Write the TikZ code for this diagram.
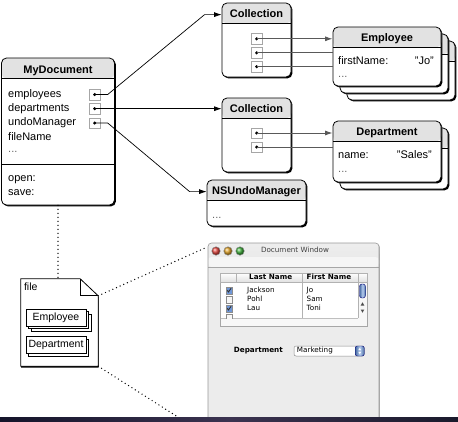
\documentclass[tikz,border=0pt]{standalone}
\usepackage{fontspec}
\setmainfont{Liberation Sans}
\newfontfamily\winfont{DejaVu Sans}
\usetikzlibrary{arrows.meta,shadows,positioning}
\definecolor{headGray}{HTML}{E2E2E2}
\definecolor{winGray}{HTML}{ECECEC}
\definecolor{checkBlue}{HTML}{6F97D8}
\definecolor{knobBlue}{HTML}{5E8FDA}
\definecolor{btnRed}{HTML}{E2463F}
\definecolor{btnYellow}{HTML}{E0A228}
\definecolor{btnGreen}{HTML}{3EAE3A}
\definecolor{bandLeft}{HTML}{14142A}
\definecolor{bandMid}{HTML}{3B3350}
\definecolor{bandRight}{HTML}{1A1A2C}
\newcommand{\boxfont}{\fontsize{11}{13}\selectfont}
\newcommand{\filefont}{\fontsize{10.5}{12}\selectfont}
\newcommand{\wfont}{\winfont\fontsize{7.2}{8}\selectfont}
\tikzset{
  classBox/.style={draw,line width=0.8pt,rounded corners=5pt,fill=white,inner sep=0pt,
    drop shadow={shadow xshift=1.4pt,shadow yshift=-1.4pt,opacity=1,fill=black},
    path picture={
      \fill[headGray] (path picture bounding box.north west) rectangle ([yshift=-20.5pt]path picture bounding box.north east);
      \draw[line width=0.8pt] ([yshift=-20.5pt]path picture bounding box.north west) -- ([yshift=-20.5pt]path picture bounding box.north east);}},
  boxTitle/.style={font=\boxfont\bfseries,inner sep=0pt,text height=8pt,text depth=2.5pt},
  fieldText/.style={anchor=west,font=\boxfont,inner sep=0pt,text height=8pt,text depth=2.5pt},
  valueText/.style={fieldText,anchor=east},
  moreText/.style={fieldText,text=black!60},
  slot/.style={draw=black!35,line width=0.5pt,minimum size=10.5pt,inner sep=0pt,
    path picture={\fill (path picture bounding box.center) circle (1.7pt);}},
  ptr/.style={-{Latex[length=7.5pt,width=5pt]},line width=0.7pt},
  link/.style={line width=1pt,black!65},
  dots/.style={line width=1.4pt,line cap=round,dash pattern=on 0pt off 4pt},
  recordBox/.style={draw,line width=0.5pt,fill=white,minimum width=60pt,minimum height=17pt,inner sep=0pt,font=\filefont},
  winFrame/.style={fill=winGray,draw=black!40,line width=0.6pt,rounded corners=3.5pt,inner sep=0pt,
    drop shadow={shadow xshift=0.9pt,shadow yshift=-0.9pt,opacity=0.35,fill=black},
    path picture={
      \shade[top color=black!7,bottom color=black!22] (path picture bounding box.north west) rectangle ([yshift=-14pt]path picture bounding box.north east);
      \fill[black!4] ([yshift=-14pt]path picture bounding box.north west) rectangle ([yshift=-24pt]path picture bounding box.north east);
      \draw[black!35,line width=0.5pt] ([yshift=-24pt]path picture bounding box.north west) -- ([yshift=-24pt]path picture bounding box.north east);}},
  trafficBtn/.style={circle,minimum size=8.5pt,inner sep=0pt,draw=black!45,line width=0.4pt,shading=ball},
  winText/.style={font=\wfont,inner sep=0pt,text height=5.2pt,text depth=1.6pt},
  winLabel/.style={winText,font=\wfont\bfseries},
  checkBox/.style={draw=black!45,line width=0.4pt,fill=black!3,minimum size=6.5pt,inner sep=0pt},
  checked/.style={checkBox,fill=checkBlue,
    path picture={\draw[black!80,line width=0.9pt] ([shift={(-1.9pt,0.3pt)}]path picture bounding box.center) -- ([shift={(-0.5pt,-1.5pt)}]path picture bounding box.center) -- ([shift={(2.1pt,2.3pt)}]path picture bounding box.center);}},
  blueKnob/.style={draw=blue!45!black,line width=0.4pt,inner sep=0pt,shading=axis,
    left color=knobBlue!75!black,right color=knobBlue!75!black,middle color=knobBlue!45!white}
}

\begin{document}
\begin{tikzpicture}[x=1pt,y=-1pt]
  \useasboundingbox (0,0) rectangle (458,421);

  % object graph
  \node[classBox,minimum width=113pt,minimum height=147pt] (myDoc) at (58,131.5) {};
  \node[boxTitle] (myDocTitle) at ([yshift=-13pt]myDoc.north) {MyDocument};
  \node[fieldText] (fEmployees) at (8,94.5) {employees};
  \node[fieldText] (fDepartments) at (8,108.5) {departments};
  \node[fieldText] (fUndo) at (8,123) {undoManager};
  \node[fieldText] (fFileName) at (8,137.5) {fileName};
  \node[moreText] (fMore) at (8,150) {...};
  \draw[line width=0.8pt] (myDoc.west |- 0,164) -- (myDoc.east |- 0,164);
  \node[fieldText] (mOpen) at (8,178.5) {open:};
  \node[fieldText] (mSave) at (8,192.5) {save:};
  \node[slot] (d1) at (94.7,94.5) {};
  \node[slot] (d2) at (94.7,108.7) {};
  \node[slot] (d3) at (94.7,123) {};

  \node[classBox,minimum width=69pt,minimum height=74pt] (coll1) at (256.5,40) {};
  \node[boxTitle] (coll1Title) at ([yshift=-12pt]coll1.north) {Collection};
  \node[slot] (c1a) at (256.7,38.8) {};
  \node[slot] (c1b) at (256.7,52.8) {};
  \node[slot] (c1c) at (256.7,66.7) {};

  \node[classBox,minimum width=69pt,minimum height=74pt] (coll2) at (256.5,135) {};
  \node[boxTitle] (coll2Title) at ([yshift=-12pt]coll2.north) {Collection};
  \node[slot] (c2a) at (256.7,133) {};
  \node[slot] (c2b) at (256.7,147) {};

  \node[classBox,minimum width=108pt,minimum height=59pt] (emp3) at (401,70.5) {};
  \node[classBox,minimum width=108pt,minimum height=59pt] (emp2) at (394,63.5) {};
  \node[classBox,minimum width=108pt,minimum height=59pt] (emp) at (387,56.5) {};
  \node[boxTitle] (empTitle) at ([yshift=-12.5pt]emp.north) {Employee};
  \node[fieldText] (empField) at (338,61.5) {firstName:};
  \node[valueText] (empValue) at (434,61.5) {"Jo"};
  \node[moreText] (empMore) at (338,74.5) {...};

  \node[classBox,minimum width=108pt,minimum height=61pt] (dept2) at (394,158.5) {};
  \node[classBox,minimum width=108pt,minimum height=61pt] (dept) at (387,151.5) {};
  \node[boxTitle] (deptTitle) at ([yshift=-12.5pt]dept.north) {Department};
  \node[fieldText] (deptField) at (338,155.5) {name:};
  \node[valueText] (deptValue) at (432,155.5) {"Sales"};
  \node[moreText] (deptMore) at (338,169.5) {...};

  \node[classBox,minimum width=99pt,minimum height=46pt] (undo) at (256.5,203) {};
  \node[boxTitle] (undoTitle) at ([yshift=-12pt]undo.north) {NSUndoManager};
  \node[moreText] (undoMore) at (212,215.5) {...};

  \draw[ptr] (d1.center) -- ++(13,0) -- ([xshift=-17pt]coll1.west |- coll1Title) -- (coll1.west |- coll1Title);
  \draw[ptr] (d2.center) -- (d2 -| coll2.west);
  \draw[ptr] (d3.center) -- ++(13,0) -- ([xshift=-17pt]undo.west |- undoTitle) -- (undo.west |- undoTitle);
  \draw[ptr,link] (c1a.center) -- (c1a -| emp.west);
  \draw[link] (c1b.center) -- (c1b -| emp.west);
  \draw[link] (c1c.center) -- (c1c -| emp.west);
  \draw[ptr,link] (c2a.center) -- (c2a -| dept.west);
  \draw[link] (c2b.center) -- (c2b -| dept.west);

  % file on disk
  \node[minimum width=77pt,minimum height=87pt,inner sep=0pt] (file) at (59.5,322.5) {};
  \draw[line width=0.8pt,fill=white,drop shadow={shadow xshift=0.3pt,shadow yshift=-1.4pt,opacity=1,fill=black}]
    (file.north west) -- ([xshift=-18pt]file.north east) -- ([yshift=-17pt]file.north east) -- (file.south east) -- (file.south west) -- cycle;
  \draw[line width=0.8pt] ([xshift=-18pt]file.north east) |- ([yshift=-17pt]file.north east);
  \node[anchor=north west,font=\filefont,inner sep=0pt] (fileLabel) at ([xshift=3pt,yshift=-3.5pt]file.north west) {file};
  \node[recordBox] (fEmp3) at (61,322.5) {};
  \node[recordBox] (fEmp2) at (58.5,320) {};
  \node[recordBox] (fEmp) at (56,317.5) {Employee};
  \node[recordBox] (fDept2) at (58.5,347.5) {};
  \node[recordBox] (fDept) at (56,345) {Department};

  \coordinate (winLow) at (181,419);
  \draw[dots] (myDoc.south) -- (myDoc.south |- file.north);
  \draw[dots] (file.south east) -- (winLow);

  % document window
  \node[winFrame,minimum width=171pt,minimum height=184pt] (win) at (293.5,335) {};
  \draw[dots] ([yshift=-17pt]file.north east) -- ([xshift=-2pt,yshift=-5pt]win.north west);
  \node[trafficBtn,ball color=btnRed] (btnClose) at (216,251) {};
  \node[trafficBtn,ball color=btnYellow] (btnMin) at (228,251) {};
  \node[trafficBtn,ball color=btnGreen] (btnZoom) at (240,251) {};
  \node[winText,text=black!75] (winTitle) at (295,251) {Document Window};

  \node[draw=black!35,line width=0.5pt,fill=black!3,minimum width=147pt,minimum height=53pt,inner sep=0pt] (scrollView) at (293.5,299.5) {};
  \node[fill=white,minimum width=137.5pt,minimum height=44.5pt,inner sep=0pt] (tableArea) at (289.25,295.75) {};
  \node[draw=black!30,line width=0.4pt,top color=white,bottom color=black!12,minimum width=147pt,minimum height=9pt,inner sep=0pt] (tableHead) at (293.5,277.5) {};
  \draw[black!30,line width=0.4pt] (236,273) -- (236,282);
  \draw[black!30,line width=0.4pt] (302,273) -- (302,318);
  \draw[black!30,line width=0.4pt] (358,273) -- (358,318);
  \draw[black!25,line width=0.8pt] (220.5,318.4) -- (358,318.4);
  \node[winLabel,anchor=west] (hLast) at (249,277.5) {Last Name};
  \node[winLabel,anchor=west] (hFirst) at (306.5,277.5) {First Name};

  \node[checked] (chk1) at (229,290.5) {};
  \node[checkBox] (chk2) at (229,299.5) {};
  \node[checked] (chk3) at (229,308.5) {};
  \begin{scope}
    \clip (220,273) rectangle (358,318);
    \node[checkBox] (chk4) at (229,317.5) {};
  \end{scope}
  \node[winText,anchor=west] (last1) at (247,290.5) {Jackson};
  \node[winText,anchor=west] (last2) at (247,299.5) {Pohl};
  \node[winText,anchor=west] (last3) at (247,308.5) {Lau};
  \node[winText,anchor=west] (first1) at (306.5,290.5) {Jo};
  \node[winText,anchor=west] (first2) at (306.5,299.5) {Sam};
  \node[winText,anchor=west] (first3) at (306.5,308.5) {Toni};

  \node[blueKnob,rounded corners=2.5pt,minimum width=6pt,minimum height=14pt] (knob) at (362.5,291) {};
  \fill[black!70] (360.7,305.5) -- (364.3,305.5) -- (362.5,302.3) -- cycle;
  \fill[black!70] (360.7,309.5) -- (364.3,309.5) -- (362.5,312.7) -- cycle;

  \node[winLabel,anchor=east] (deptLabel) at (283,351) {Department};
  \node[draw=black!45,fill=white,rounded corners=2pt,line width=0.5pt,minimum width=70pt,minimum height=10pt,inner sep=0pt] (popup) at (329,351) {};
  \node[winText,anchor=west] (popupText) at ([xshift=3pt]popup.west) {Marketing};
  \node[blueKnob,rounded corners=2pt,minimum width=9pt,minimum height=10pt] (stepper) at ([xshift=-4.5pt]popup.east) {};
  \fill[white] ([shift={(-1.5pt,0.8pt)}]stepper.center) -- ([shift={(1.5pt,0.8pt)}]stepper.center) -- ([shift={(0pt,3pt)}]stepper.center) -- cycle;
  \fill[white] ([shift={(-1.5pt,-0.8pt)}]stepper.center) -- ([shift={(1.5pt,-0.8pt)}]stepper.center) -- ([shift={(0pt,-3pt)}]stepper.center) -- cycle;

  % desktop strip
  \shade[left color=bandLeft,right color=bandRight,middle color=bandMid] (0,417.5) rectangle (458,421);
\end{tikzpicture}
\end{document}
